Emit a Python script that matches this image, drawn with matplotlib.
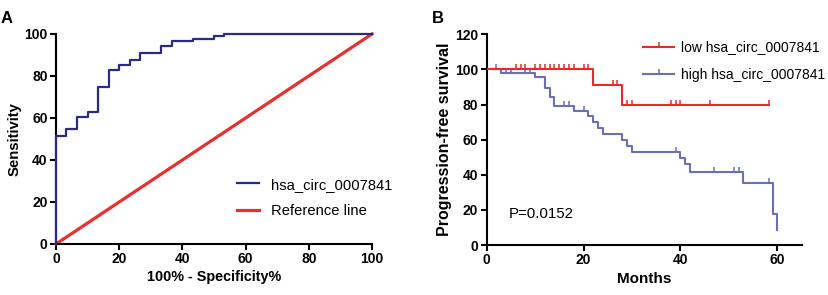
import numpy as np
import matplotlib
matplotlib.use("Agg")
import matplotlib.pyplot as plt
from matplotlib.lines import Line2D

plt.rcParams['font.family'] = ['Liberation Sans', 'DejaVu Sans']

# ---- Panel A: ROC data ----
roc_fpr = [0, 0, 3.3, 3.3, 6.7, 6.7, 10.0, 10.0, 13.3, 13.3, 16.7, 16.7, 20.0, 20.0,
           23.3, 23.3, 26.7, 26.7, 33.3, 33.3, 36.7, 36.7, 43.3, 43.3, 50.0, 50.0,
           53.3, 53.3, 100]
roc_tpr = [0, 51.3, 51.3, 54.6, 54.6, 60.5, 60.5, 63.0, 63.0, 74.6, 74.6, 82.7, 82.7, 85.0,
           85.0, 87.4, 87.4, 90.9, 90.9, 94.3, 94.3, 96.5, 96.5, 97.8, 97.8, 98.9,
           98.9, 100, 100]
ref_x = [0, 100]
ref_y = [0, 100]

# ---- Panel B: Kaplan-Meier data ----
low_times = [0, 22, 28, 58.3]
low_surv = [100, 90.9, 79.5, 79.5]
low_censor = [6, 7, 8, 10, 11, 12, 13, 14, 15, 16, 17, 18, 20, 21,
              26, 27, 29, 30, 38, 39, 40, 46, 58.3]

high_times = [0, 3, 10, 12, 13, 14, 18, 21, 22, 23, 24, 28, 29, 30, 40, 41, 42, 53, 59, 60]
high_surv = [100, 97.9, 95.8, 89.2, 84.5, 79.2, 76.3, 73.3, 70.2, 66.7, 63.4, 60.1,
             56.6, 52.9, 49.6, 46.2, 41.6, 35.6, 17.8, 8.9]
high_censor = [2, 4, 5, 8, 9, 16, 17, 20, 39, 47, 51, 52, 58.3]

navy = '#2b2a85'
red_ref = '#e8302f'
km_red = '#ea2a2a'
km_blue = '#6b70b6'


def surv_at(times, surv, t):
    idx = np.searchsorted(times, t, side='right') - 1
    return np.asarray(surv)[idx]


fig = plt.figure(figsize=(8.29, 2.95), dpi=100)

# ---- Panel A ----
axA = fig.add_axes([0.0676, 0.173, 0.3812, 0.712])
axA.plot(ref_x, ref_y, color=red_ref, lw=2.3, label='Reference line', clip_on=False, zorder=2)
axA.plot(roc_fpr, roc_tpr, color=navy, lw=1.6, label='hsa_circ_0007841', clip_on=False, zorder=3)
axA.set_xlim(0, 100)
axA.set_ylim(0, 100)
axA.set_xticks(range(0, 101, 20))
axA.set_yticks(range(0, 101, 20))
axA.set_xlabel('100% - Specificity%', fontsize=10.4, fontweight='bold', labelpad=3)
axA.set_ylabel('Sensitivity', fontsize=10.7, fontweight='bold', labelpad=2)
h, l = axA.get_legend_handles_labels()
axA.legend([h[1], h[0]], [l[1], l[0]], loc='lower left', bbox_to_anchor=(0.53, 0.06),
           frameon=False, fontsize=10.6, handlelength=1.5, handletextpad=0.85,
           labelspacing=0.85)
axA.text(-0.175, 1.04, 'A', transform=axA.transAxes, fontsize=12, fontweight='bold',
         ha='left', va='bottom')

# ---- Panel B ----
axB = fig.add_axes([0.587, 0.169, 0.380, 0.715])
axB.step(low_times, low_surv, where='post', color=km_red, lw=1.5, zorder=3)
axB.step(high_times, high_surv, where='post', color=km_blue, lw=1.5, zorder=2)
axB.plot(low_censor, surv_at(low_times, low_surv, low_censor), linestyle='none',
         marker=2, markersize=3.5, mew=1.1, color=km_red, zorder=3)
axB.plot(high_censor, surv_at(high_times, high_surv, high_censor), linestyle='none',
         marker=2, markersize=3.5, mew=1.1, color=km_blue, zorder=2)
axB.set_xlim(0, 65)
axB.set_ylim(0, 120)
axB.set_xticks([0, 20, 40, 60])
axB.set_yticks(range(0, 121, 20))
axB.set_xlabel('Months', fontsize=11, fontweight='bold', labelpad=3)
axB.set_ylabel('Progression-free survival', fontsize=11.5, fontweight='bold', labelpad=2)
axB.text(4.5, 18, 'P=0.0152', fontsize=10.8, ha='left', va='center')
handles = [Line2D([0], [0], color=km_red, lw=1.5, marker=2, markersize=3.5, mew=1.1),
           Line2D([0], [0], color=km_blue, lw=1.5, marker=2, markersize=3.5, mew=1.1)]
axB.legend(handles, ['low hsa_circ_0007841', 'high hsa_circ_0007841'], loc='upper left',
           bbox_to_anchor=(0.48, 0.997), frameon=False, fontsize=10, handlelength=2.2,
           handletextpad=0.5, labelspacing=0.95, borderaxespad=0)
axB.text(-0.175, 1.04, 'B', transform=axB.transAxes, fontsize=12, fontweight='bold',
         ha='left', va='bottom')

for ax in (axA, axB):
    ax.spines['top'].set_visible(False)
    ax.spines['right'].set_visible(False)
    ax.spines['left'].set_linewidth(1.5)
    ax.spines['bottom'].set_linewidth(1.5)
    ax.tick_params(direction='out', width=1.5, length=4, labelsize=10, pad=2)
    for lab in ax.get_xticklabels() + ax.get_yticklabels():
        lab.set_fontweight('bold')

fig.savefig('out.png', dpi=100)
